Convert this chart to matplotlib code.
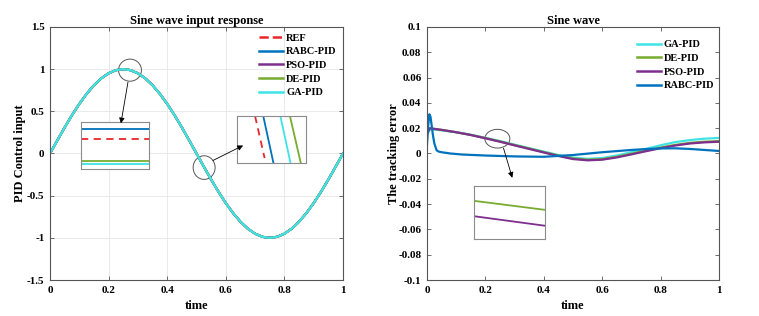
"""
Sine wave input response and tracking error of four PID tuners.

Two panels: the control input with two zoom boxes, and the tracking
error with one zoom box. Styled after MATLAB figure output.
"""

import matplotlib.pyplot as plt
from matplotlib.patches import Ellipse

# ---------------------------------------------------------------- data
# left panel: sampled sine reference (read from the figure, step 0.025)
time_in = [0.0, 0.025, 0.05, 0.075, 0.1, 0.125, 0.15, 0.175, 0.2, 0.225,
           0.25, 0.275, 0.3, 0.325, 0.35, 0.375, 0.4, 0.425, 0.45, 0.475,
           0.5, 0.525, 0.55, 0.575, 0.6, 0.625, 0.65, 0.675, 0.7, 0.725,
           0.75, 0.775, 0.8, 0.825, 0.85, 0.875, 0.9, 0.925, 0.95, 0.975, 1.0]
ref_input = [0.0, 0.156, 0.309, 0.454, 0.588, 0.707, 0.809, 0.891, 0.951,
             0.988, 1.0, 0.988, 0.951, 0.891, 0.809, 0.707, 0.588, 0.454,
             0.309, 0.156, 0.0, -0.156, -0.309, -0.454, -0.588, -0.707,
             -0.809, -0.891, -0.951, -0.988, -1.0, -0.988, -0.951, -0.891,
             -0.809, -0.707, -0.588, -0.454, -0.309, -0.156, 0.0]
# the controller outputs sit on top of the reference at this scale
pid_output = ref_input

input_labels = ['REF', 'RABC-PID', 'PSO-PID', 'DE-PID', 'GA-PID']

# zoom box 1 (peak): horizontal levels inside the box, box units 0..1
peak_levels = {'RABC-PID': 0.84, 'REF': 0.63, 'DE-PID': 0.17, 'GA-PID': 0.10}
# zoom box 2 (zero crossing): x at top and bottom of each slanted line
cross_top = {'REF': 0.26, 'RABC-PID': 0.38, 'GA-PID': 0.63, 'DE-PID': 0.77}
cross_bot = {'REF': 0.40, 'RABC-PID': 0.53, 'GA-PID': 0.78, 'DE-PID': 0.93}
cross_bot_y = {'REF': 0.11, 'RABC-PID': 0.0, 'GA-PID': 0.0, 'DE-PID': 0.0}

# right panel: tracking error
time_err = [0.0, 0.01, 0.05, 0.1, 0.15, 0.2, 0.25, 0.3, 0.35, 0.4, 0.45,
            0.5, 0.55, 0.6, 0.65, 0.7, 0.75, 0.8, 0.85, 0.9, 0.95, 1.0]
err_ga = [0.015, 0.0192, 0.0183, 0.0168, 0.0148, 0.0124, 0.0098, 0.0070,
          0.0042, 0.0015, -0.0012, -0.0032, -0.0042, -0.0036, -0.0016,
          0.0010, 0.0037, 0.0065, 0.0090, 0.0106, 0.0117, 0.0123]
err_de = [0.0155, 0.0197, 0.0186, 0.0168, 0.0147, 0.0122, 0.0095, 0.0067,
          0.0039, 0.0011, -0.0016, -0.0039, -0.0049, -0.0044, -0.0026,
          -0.0002, 0.0023, 0.0047, 0.0068, 0.0084, 0.0093, 0.0098]
err_pso = [0.016, 0.0200, 0.0187, 0.0168, 0.0146, 0.0120, 0.0093, 0.0064,
           0.0036, 0.0008, -0.0020, -0.0044, -0.0054, -0.0049, -0.0031,
           -0.0007, 0.0018, 0.0042, 0.0063, 0.0079, 0.0088, 0.0093]
time_rabc = [0.0, 0.004, 0.008, 0.012, 0.016, 0.02, 0.025, 0.033, 0.04,
             0.05, 0.08, 0.12, 0.2, 0.3, 0.4, 0.5, 0.6, 0.7, 0.75, 0.8,
             0.85, 0.9, 0.95, 1.0]
err_rabc = [0.007, 0.022, 0.031, 0.029, 0.022, 0.015, 0.008, 0.0025, 0.0015,
            0.001, 0.0, -0.0008, -0.0016, -0.0023, -0.0026, -0.0012, 0.001,
            0.0028, 0.0035, 0.004, 0.0041, 0.0036, 0.0028, 0.002]

# zoom box 3: DE and PSO lines, box units 0..1
zoom_de = [0.72, 0.55]
zoom_pso = [0.43, 0.25]

COLORS = {
    'REF': '#e8262b',
    'RABC-PID': '#0072bd',
    'PSO-PID': '#7e2f8e',
    'DE-PID': '#77ac30',
    'GA-PID': '#3fe3e6',
}
SPINE = '#555555'


def style_axes(ax):
    """MATLAB-like box, inward ticks on all sides."""
    for sp in ax.spines.values():
        sp.set_color(SPINE)
        sp.set_linewidth(0.8)
    ax.tick_params(direction='in', top=True, right=True, length=3,
                   width=0.6, color=SPINE, labelsize=8, pad=4)
    for lab in ax.get_xticklabels() + ax.get_yticklabels():
        lab.set_fontweight('bold')


def zoom_box(fig, rect):
    """Small inset axes with a grey frame and no ticks."""
    ax = fig.add_axes(rect)
    ax.set_xlim(0, 1)
    ax.set_ylim(0, 1)
    ax.set_xticks([])
    ax.set_yticks([])
    for sp in ax.spines.values():
        sp.set_color('#8c8c8c')
        sp.set_linewidth(0.8)
    return ax


def plot_fmt(name):
    return '--' if name == 'REF' else '-'


def main():
    plt.rcParams['font.family'] = ['Liberation Serif', 'DejaVu Serif']
    plt.rcParams['font.weight'] = 'bold'

    fig = plt.figure(figsize=(7.59, 3.16), dpi=100)
    ax1 = fig.add_axes([0.0659, 0.1139, 0.386, 0.8007])
    ax2 = fig.add_axes([0.5626, 0.1139, 0.3847, 0.8007])

    # left panel
    for name in input_labels:
        ys = ref_input if name == 'REF' else pid_output
        ax1.plot(time_in, ys, plot_fmt(name), color=COLORS[name], lw=1.6,
                 label=name)
    ax1.set_xlim(0, 1)
    ax1.set_ylim(-1.5, 1.5)
    ax1.set_xticks([0, 0.2, 0.4, 0.6, 0.8, 1])
    ax1.set_xticklabels(['0', '0.2', '0.4', '0.6', '0.8', '1'])
    ax1.set_yticks([-1.5, -1, -0.5, 0, 0.5, 1, 1.5])
    ax1.set_yticklabels(['-1.5', '-1', '-0.5', '0', '0.5', '1', '1.5'])
    ax1.grid(True, color='#e6e6e6', lw=0.6)
    ax1.set_axisbelow(True)
    ax1.set_title('Sine wave input response', fontsize=9, fontweight='bold',
                  pad=2)
    ax1.set_xlabel('time', fontsize=9, fontweight='bold', labelpad=4)
    ax1.set_ylabel('PID Control input', fontsize=9, fontweight='bold',
                   labelpad=0.5)
    style_axes(ax1)
    leg = ax1.legend(loc='upper left', bbox_to_anchor=(0.715, 0.975),
                     frameon=False, fontsize=7.5, handlelength=2.3,
                     handletextpad=0.25, labelspacing=0.42, borderpad=0,
                     borderaxespad=0)
    for line in leg.get_lines():
        line.set_linewidth(1.8)

    # circles on the left panel
    ax1.add_patch(Ellipse((0.273, 0.988), 0.078, 0.262, fill=False,
                          ec='#555555', lw=0.7))
    ax1.add_patch(Ellipse((0.526, -0.167), 0.075, 0.28, fill=False,
                          ec='#555555', lw=0.7))
    arrow = dict(arrowstyle='-|>', color='black', lw=0.6,
                 mutation_scale=8, shrinkA=0, shrinkB=0)

    # zoom box at the peak
    z1 = zoom_box(fig, [0.1067, 0.4652, 0.0896, 0.1497])
    for name, lvl in peak_levels.items():
        z1.plot([0, 1], [lvl, lvl], plot_fmt(name), color=COLORS[name],
                lw=1.3, dashes=(4, 3) if name == 'REF' else (None, None))

    # zoom box at the zero crossing
    z2 = zoom_box(fig, [0.3126, 0.4832, 0.0901, 0.1497])
    for name in cross_top:
        z2.plot([cross_top[name], cross_bot[name]], [1, cross_bot_y[name]],
                plot_fmt(name), color=COLORS[name], lw=1.3,
                dashes=(4, 3) if name == 'REF' else (None, None))

    # arrows drawn on the boxes so their tips stay on top
    z1.annotate('', xy=(0.242, 0.357), xycoords=ax1.transData,
                xytext=(0.266, 0.845), textcoords=ax1.transData,
                arrowprops=arrow, annotation_clip=False)
    z2.annotate('', xy=(0.659, 0.095), xycoords=ax1.transData,
                xytext=(0.556, -0.083), textcoords=ax1.transData,
                arrowprops=arrow, annotation_clip=False)

    # right panel
    ax2.plot(time_err, err_ga, color=COLORS['GA-PID'], lw=1.6, label='GA-PID')
    ax2.plot(time_err, err_de, color=COLORS['DE-PID'], lw=1.6, label='DE-PID')
    ax2.plot(time_err, err_pso, color=COLORS['PSO-PID'], lw=1.6,
             label='PSO-PID')
    ax2.plot(time_rabc, err_rabc, color=COLORS['RABC-PID'], lw=1.6,
             label='RABC-PID')
    ax2.set_xlim(0, 1)
    ax2.set_ylim(-0.1, 0.1)
    ax2.set_xticks([0, 0.2, 0.4, 0.6, 0.8, 1])
    ax2.set_xticklabels(['0', '0.2', '0.4', '0.6', '0.8', '1'])
    yt = [-0.1, -0.08, -0.06, -0.04, -0.02, 0, 0.02, 0.04, 0.06, 0.08, 0.1]
    ax2.set_yticks(yt)
    ax2.set_yticklabels(['-0.1', '-0.08', '-0.06', '-0.04', '-0.02', '0',
                         '0.02', '0.04', '0.06', '0.08', '0.1'])
    ax2.set_title('Sine wave', fontsize=9, fontweight='bold', pad=2)
    ax2.set_xlabel('time', fontsize=9, fontweight='bold', labelpad=4)
    ax2.set_ylabel('The tracking error', fontsize=9, fontweight='bold',
                   labelpad=-1)
    style_axes(ax2)
    leg2 = ax2.legend(loc='upper left', bbox_to_anchor=(0.72, 0.948),
                      frameon=False, fontsize=7.5, handlelength=2.3,
                      handletextpad=0.25, labelspacing=0.42, borderpad=0,
                      borderaxespad=0)
    for line in leg2.get_lines():
        line.set_linewidth(1.8)

    ax2.add_patch(Ellipse((0.241, 0.0117), 0.0856, 0.0148, fill=False,
                          ec='#555555', lw=0.7))
    ax2.annotate('', xy=(0.292, -0.0192), xytext=(0.262, 0.0042),
                 arrowprops=arrow)

    z3 = zoom_box(fig, [0.6245, 0.2437, 0.0935, 0.1677])
    z3.plot([0, 1], zoom_de, color=COLORS['DE-PID'], lw=1.3)
    z3.plot([0, 1], zoom_pso, color=COLORS['PSO-PID'], lw=1.3)

    fig.savefig('out.png', dpi=100)


if __name__ == "__main__":
    main()
